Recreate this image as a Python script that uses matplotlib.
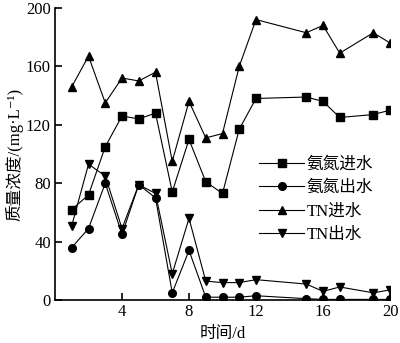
import matplotlib.pyplot as plt

plt.rcParams['font.family'] = ['Liberation Serif', 'Noto Sans CJK SC', 'DejaVu Serif']

days = [1, 2, 3, 4, 5, 6, 7, 8, 9, 10, 11, 12, 15, 16, 17, 19, 20]
nh4_in = [62, 72, 105, 126, 124, 128, 74, 110, 81, 73, 117, 138, 139, 136, 125, 127, 130]
nh4_out = [36, 49, 80, 45, 79, 70, 5, 34, 2, 2, 2, 3, 1, 0.5, 0.5, 0.5, 0.5]
tn_in = [146, 167, 135, 152, 150, 156, 95, 136, 111, 114, 160, 192, 183, 188, 169, 183, 176]
tn_out = [51, 93, 85, 49, 79, 73, 18, 56, 13, 12, 12, 14, 11, 6, 9, 5, 7]

fig = plt.figure(figsize=(4.0, 3.43), dpi=100)
ax = fig.add_axes([0.1375, 0.125, 0.8375, 0.852])

style = dict(color='black', linewidth=0.8, markersize=5.5)
ax.plot(days, nh4_in, marker='s', label='氨氮进水', **style)
ax.plot(days, nh4_out, marker='o', label='氨氮出水', **style)
ax.plot(days, tn_in, marker='^', label='TN进水', **style)
ax.plot(days, tn_out, marker='v', label='TN出水', **style)

ax.set_xlim(0, 20)
ax.set_ylim(0, 200)
ax.set_xticks([4, 8, 12, 16, 20])
ax.set_yticks([0, 40, 80, 120, 160, 200])
ax.spines['top'].set_visible(False)
ax.spines['right'].set_visible(False)
ax.spines['left'].set_linewidth(1.2)
ax.spines['bottom'].set_linewidth(1.2)
ax.tick_params(direction='in', labelsize=12, length=5, width=1.2, pad=3)
ax.set_xlabel('时间/d', fontsize=12, labelpad=4)
ax.set_ylabel('质量浓度/(mg·L⁻¹)', fontsize=12, labelpad=2)

ax.legend(loc='upper left', bbox_to_anchor=(0.585, 0.52), frameon=False,
          fontsize=12, handlelength=2.7, handletextpad=0.15, labelspacing=0.45,
          borderpad=0)

fig.savefig('out.png', dpi=100)
plt.close(fig)
